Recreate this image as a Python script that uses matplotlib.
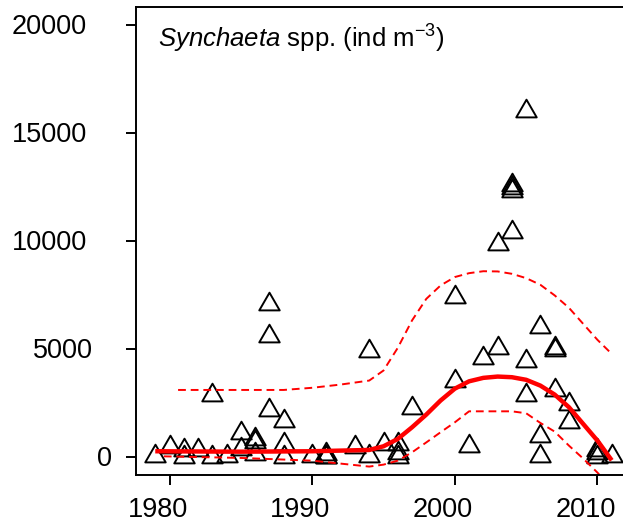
import numpy as np
import matplotlib
matplotlib.use("Agg")
import matplotlib.pyplot as plt
import matplotlib.transforms as mtransforms
from matplotlib.path import Path

plt.rcParams['font.family'] = ['Liberation Sans', 'DejaVu Sans']
plt.rcParams['mathtext.fontset'] = 'custom'
plt.rcParams['mathtext.rm'] = 'Liberation Sans'
plt.rcParams['mathtext.it'] = 'Liberation Sans:italic'

# observed abundances (ind m-3)
years = [1979, 1980, 1981, 1981, 1982, 1983, 1983, 1984,
         1985, 1985, 1986, 1986, 1986, 1987, 1987, 1987,
         1988, 1988, 1988, 1990, 1991, 1991, 1991, 1993,
         1994, 1994, 1995, 1996, 1996, 1996, 1997, 2000,
         2000, 2001, 2002, 2003, 2003, 2004, 2004, 2004,
         2004, 2005, 2005, 2005, 2006, 2006, 2006, 2007,
         2007, 2007, 2008, 2008, 2010, 2010, 2010, 2011]
values = [50, 450, 300, 0, 300, 2850, 0, 50,
          1100, 350, 800, 700, 100, 7050, 5600, 2150,
          1650, 600, 0, 50, 100, 0, 0, 470,
          4900, 50, 600, 600, 150, 0, 2250, 7400,
          3500, 500, 4550, 9850, 5050, 12600, 12450, 12300,
          10400, 16000, 4450, 2850, 6000, 950, 50, 5050,
          4950, 3100, 2450, 1600, 300, 150, 0, 50]

# smoother fit and confidence band
fit_years = [1979, 1985, 1990, 1994, 1995, 1996, 1997, 1998, 1999, 2000,
             2001, 2002, 2003, 2004, 2005, 2006, 2007, 2008, 2009, 2010, 2011]
fit_vals = [250, 230, 250, 310, 480, 820, 1360, 1950, 2600, 3150,
            3490, 3650, 3710, 3680, 3560, 3290, 2875, 2290, 1515, 740, -170]

upper_years = [1980.6, 1988, 1990, 1992, 1994, 1995, 1996, 1997, 1998, 1999, 2000,
               2001, 2002, 2003, 2004, 2005, 2006, 2007, 2008, 2009, 2010, 2011]
upper_vals = [3090, 3090, 3190, 3340, 3525, 3990, 5040, 6310, 7310, 7930, 8320,
              8500, 8590, 8580, 8470, 8270, 7960, 7470, 6895, 6150, 5410, 4760]

lower_years = [1979.6, 1985, 1990, 1994, 1995, 1996, 1997, 1998, 1999, 2000,
               2001, 2002, 2003, 2004, 2005, 2006, 2007, 2008, 2009, 2010, 2011]
lower_vals = [15, -60, -185, -460, -370, -185, 200, 660, 1130, 1590,
              2100, 2100, 2100, 2100, 2010, 1560, 1160, 510, -90, -740, -1500]

xticks = [1980, 1990, 2000, 2010]
yticks = [0, 5000, 10000, 15000, 20000]

# R style open triangle, centred on its centroid
tri = Path([(0, 1), (-0.866, -0.5), (0.866, -0.5), (0, 1)],
           [Path.MOVETO, Path.LINETO, Path.LINETO, Path.CLOSEPOLY])

fig = plt.figure(figsize=(6.23, 5.23), dpi=100)
ax = fig.add_axes([136 / 623, 1 - 475 / 523, 495 / 623, 468 / 523])

ax.plot(years, values, linestyle='none', marker=tri, markersize=17,
        markerfacecolor='none', markeredgecolor='black', markeredgewidth=1.4)
ax.plot(fit_years, fit_vals, color='red', linewidth=3.2, solid_capstyle='butt')
ax.plot(upper_years, upper_vals, color='red', linewidth=1.4, dashes=(4, 2.5))
ax.plot(lower_years, lower_vals, color='red', linewidth=1.4, dashes=(4, 2.5))

ax.set_xlim(1977.65, 2012.35)
ax.set_ylim(-850, 20830)
ax.set_xticks(xticks)
ax.set_yticks(yticks)
ax.tick_params(axis='both', length=7.5, width=1.4, color='black',
               labelbottom=False, labelleft=False)
for s in ax.spines.values():
    s.set_linewidth(1.4)

# tick labels placed like R does it (left edge from wider metrics)
px = 1 / 100
xtr = mtransforms.blended_transform_factory(ax.transData, ax.transAxes)
ytr = mtransforms.blended_transform_factory(ax.transAxes, ax.transData)
for t in xticks:
    off = mtransforms.ScaledTranslation(-42 * px, -42 * px, fig.dpi_scale_trans)
    ax.text(t, 0, str(t), transform=xtr + off, ha='left', va='baseline',
            fontsize=19.5, clip_on=False)
for t in yticks:
    lab = str(t)
    off = mtransforms.ScaledTranslation(-(18 + 21.2 * len(lab)) * px, -9.5 * px,
                                        fig.dpi_scale_trans)
    ax.text(0, t, lab, transform=ytr + off, ha='left', va='baseline',
            fontsize=19.5, clip_on=False)

ax.text(0.044, 0.914, r'$\mathit{Synchaeta}$ spp. (ind m$^{-3}$)',
        transform=ax.transAxes, fontsize=18.5, va='baseline', ha='left')

fig.savefig('out.png', dpi=100)
